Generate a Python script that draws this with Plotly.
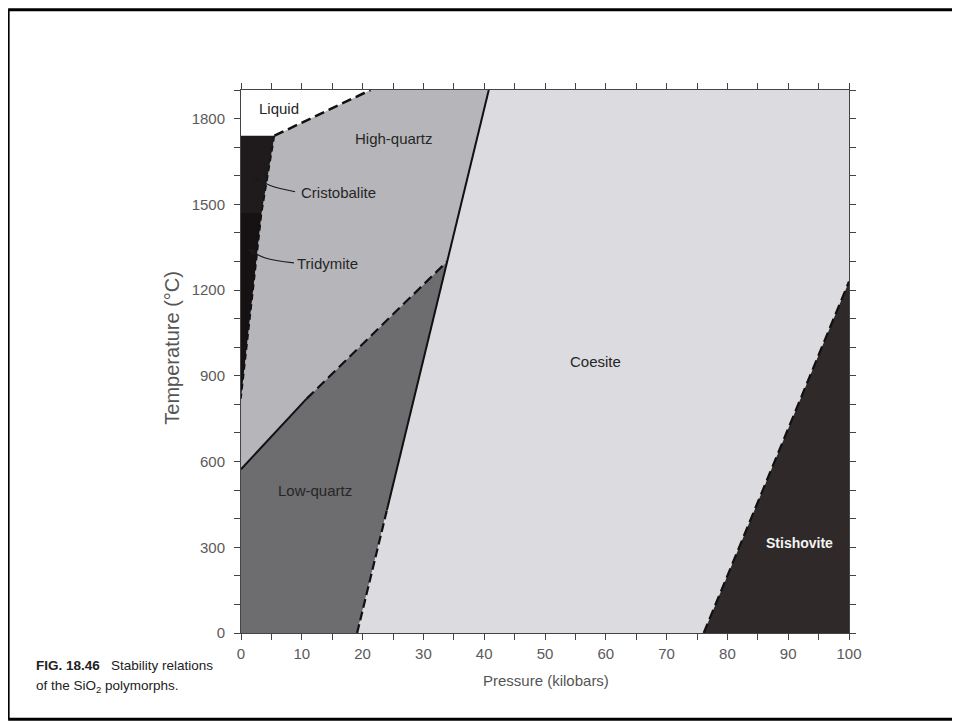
import plotly.graph_objects as go

# ---- data (pressure in kbar, temperature in °C) ----
liquid_P = [0, 5.5, 21.3, 0]
liquid_T = [1740, 1740, 1900, 1900]

cristobalite_P = [0, 5.5, 3.4, 0]
cristobalite_T = [1740, 1740, 1470, 1470]

tridymite_P = [0, 3.4, 2.0, 0.7, 0]
tridymite_T = [1470, 1470, 1200, 950, 820]

highq_P = [0, 0, 0.7, 2.0, 3.4, 5.5, 21.3, 40.75, 33.9, 10.8]
highq_T = [573, 820, 950, 1200, 1470, 1740, 1900, 1900, 1300, 820]

lowq_P = [0, 19.1, 33.9, 10.8, 0]
lowq_T = [0, 0, 1300, 820, 573]

coesite_P = [19.1, 76.1, 100, 100, 40.75]
coesite_T = [0, 0, 1230, 1900, 1900]

stishovite_P = [76.1, 100, 100]
stishovite_T = [0, 0, 1230]

# boundaries
liq_line_P, liq_line_T = [5.5, 21.3], [1740, 1900]
cris_line_P, cris_line_T = [5.5, 3.4, 2.0, 0.7, 0], [1740, 1470, 1200, 950, 820]
qq_solid_P, qq_solid_T = [0, 10.8], [573, 820]
qq_dash_P, qq_dash_T = [10.8, 33.9], [820, 1300]
qc_solid_P, qc_solid_T = [24.0, 40.75], [430, 1900]
qc_dash_P, qc_dash_T = [19.1, 24.0], [0, 430]
cs_dash_P, cs_dash_T = [76.1, 100], [0, 1230]

# curved leader arrows (label -> field)
cris_arrow_P, cris_arrow_T = [8.9, 4.8, 2.0], [1544, 1566, 1596]
trid_arrow_P, trid_arrow_T = [8.7, 4.0, 1.25], [1295, 1312, 1342]

x_ticks = [0, 10, 20, 30, 40, 50, 60, 70, 80, 90, 100]
y_ticks = [0, 300, 600, 900, 1200, 1500, 1800]

regions = [
    (liquid_P, liquid_T, "#ffffff"),
    (highq_P, highq_T, "#b6b6ba"),
    (lowq_P, lowq_T, "#6d6c6f"),
    (coesite_P, coesite_T, "#dcdce0"),
    (stishovite_P, stishovite_T, "#2f2929"),
    (cristobalite_P, cristobalite_T, "#1f1b1c"),
    (tridymite_P, tridymite_T, "#161213"),
]

fig = go.Figure()
for P, T, c in regions:
    fig.add_trace(go.Scatter(x=P, y=T, fill="toself", fillcolor=c, mode="lines",
                             line=dict(width=0, color=c), hoverinfo="skip", showlegend=False))

lines = [
    (liq_line_P, liq_line_T, "10px,5px", 2.5),
    (cris_line_P, cris_line_T, "6px,4px", 1.5),
    (qq_solid_P, qq_solid_T, "solid", 2),
    (qq_dash_P, qq_dash_T, "10px,5px", 2.2),
    (qc_solid_P, qc_solid_T, "solid", 2),
    (qc_dash_P, qc_dash_T, "9px,4px", 2.2),
    (cs_dash_P, cs_dash_T, "10px,5px", 2.2),
]
for P, T, d, w in lines:
    fig.add_trace(go.Scatter(x=P, y=T, mode="lines", line=dict(color="#111111", width=w, dash=d),
                             hoverinfo="skip", showlegend=False))

# curved leaders
for P, T in [(cris_arrow_P, cris_arrow_T), (trid_arrow_P, trid_arrow_T)]:
    fig.add_trace(go.Scatter(x=P, y=T, mode="lines", line=dict(color="#1a1a1a", width=1.2, shape="spline"),
                             hoverinfo="skip", showlegend=False))
    # arrowhead at the tip
    fig.add_annotation(x=P[-1], y=T[-1], ax=P[-1] + 0.45 * (P[1] - P[-1]), ay=T[-1] + 0.45 * (T[1] - T[-1]),
                       axref="x", ayref="y", xref="x", yref="y", text="", showarrow=True,
                       arrowhead=2, arrowsize=1, arrowwidth=1.2, arrowcolor="#1a1a1a")

label_font = dict(family="Liberation Sans, Arial, sans-serif", size=15, color="#262626")
labels = [
    ("Liquid", 6.3, 1834),
    ("High-quartz", 25.2, 1729),
    ("Cristobalite", 16.1, 1541),
    ("Tridymite", 14.2, 1292),
    ("Low-quartz", 12.2, 500),
    ("Coesite", 58.3, 950),
]
for t, x, y in labels:
    fig.add_annotation(x=x, y=y, text=t, showarrow=False, font=label_font)
fig.add_annotation(x=91.8, y=316, text="<b>Stishovite</b>", showarrow=False,
                   font=dict(family="Liberation Sans, Arial, sans-serif", size=14, color="#f4f4f4"))

# axis titles
fig.add_annotation(xref="paper", yref="paper", x=-0.113, y=0.526, text="Temperature (°C)",
                   textangle=-90, showarrow=False, xanchor="center", yanchor="middle",
                   font=dict(family="Liberation Sans, Arial, sans-serif", size=20, color="#555555"))
fig.add_annotation(xref="paper", yref="paper", x=0.501, y=-0.0866, text="Pressure (kilobars)",
                   showarrow=False, xanchor="center", yanchor="middle",
                   font=dict(family="Liberation Sans, Arial, sans-serif", size=15, color="#555555"))

# caption
cap_font = dict(family="Liberation Sans, Arial, sans-serif", size=13.5, color="#222222")
fig.add_annotation(xref="paper", yref="paper", x=-0.340, y=-0.059, xanchor="left", yanchor="middle",
                   text="<b>FIG. 18.46</b>   Stability relations", showarrow=False, font=cap_font)
fig.add_annotation(xref="paper", yref="paper", x=-0.340, y=-0.0977, xanchor="left", yanchor="middle",
                   text="of the SiO<sub>2</sub> polymorphs.", showarrow=False, font=cap_font)

# outer frame: left, top and bottom edges only (right side runs off the page)
frame = dict(color="#000000", width=3)
fig.add_shape(type="line", xref="paper", yref="paper", x0=-0.383, x1=-0.383, y0=-0.159, y1=1.148,
              line=frame, layer="above")
fig.add_shape(type="line", xref="paper", yref="paper", x0=-0.383, x1=1.6, y0=1.148, y1=1.148,
              line=frame, layer="above")
fig.add_shape(type="line", xref="paper", yref="paper", x0=-0.383, x1=1.6, y0=-0.159, y1=-0.159,
              line=frame, layer="above")

tick_font = dict(family="Liberation Sans, Arial, sans-serif", size=15, color="#5a5a5a")
fig.update_xaxes(range=[0, 100], tickvals=x_ticks, ticktext=[str(v) for v in x_ticks],
                 ticks="outside", ticklen=6, tickcolor="#444444", showline=True,
                 linecolor="#444444", linewidth=1, mirror="ticks", showgrid=False, zeroline=False,
                 minor=dict(dtick=5, ticks="outside", ticklen=6, tickcolor="#444444", showgrid=False),
                 tickfont=tick_font, ticklabelstandoff=1, layer="above traces")
fig.update_yaxes(range=[0, 1900], tickvals=y_ticks, ticktext=[str(v) for v in y_ticks],
                 ticks="outside", ticklen=6, tickcolor="#444444", showline=True,
                 linecolor="#444444", linewidth=1, mirror="ticks", showgrid=False, zeroline=False,
                 minor=dict(dtick=100, ticks="outside", ticklen=6, tickcolor="#444444", showgrid=False),
                 tickfont=tick_font, ticklabelstandoff=6, layer="above traces")

# page body has an 8px margin; offset margins so the plot area lands where the reference has it
fig.update_layout(width=960, height=721, margin=dict(l=233, r=119, t=82, b=96),
                  plot_bgcolor="#ffffff", paper_bgcolor="#ffffff", showlegend=False)

fig.write_html("out.html")
